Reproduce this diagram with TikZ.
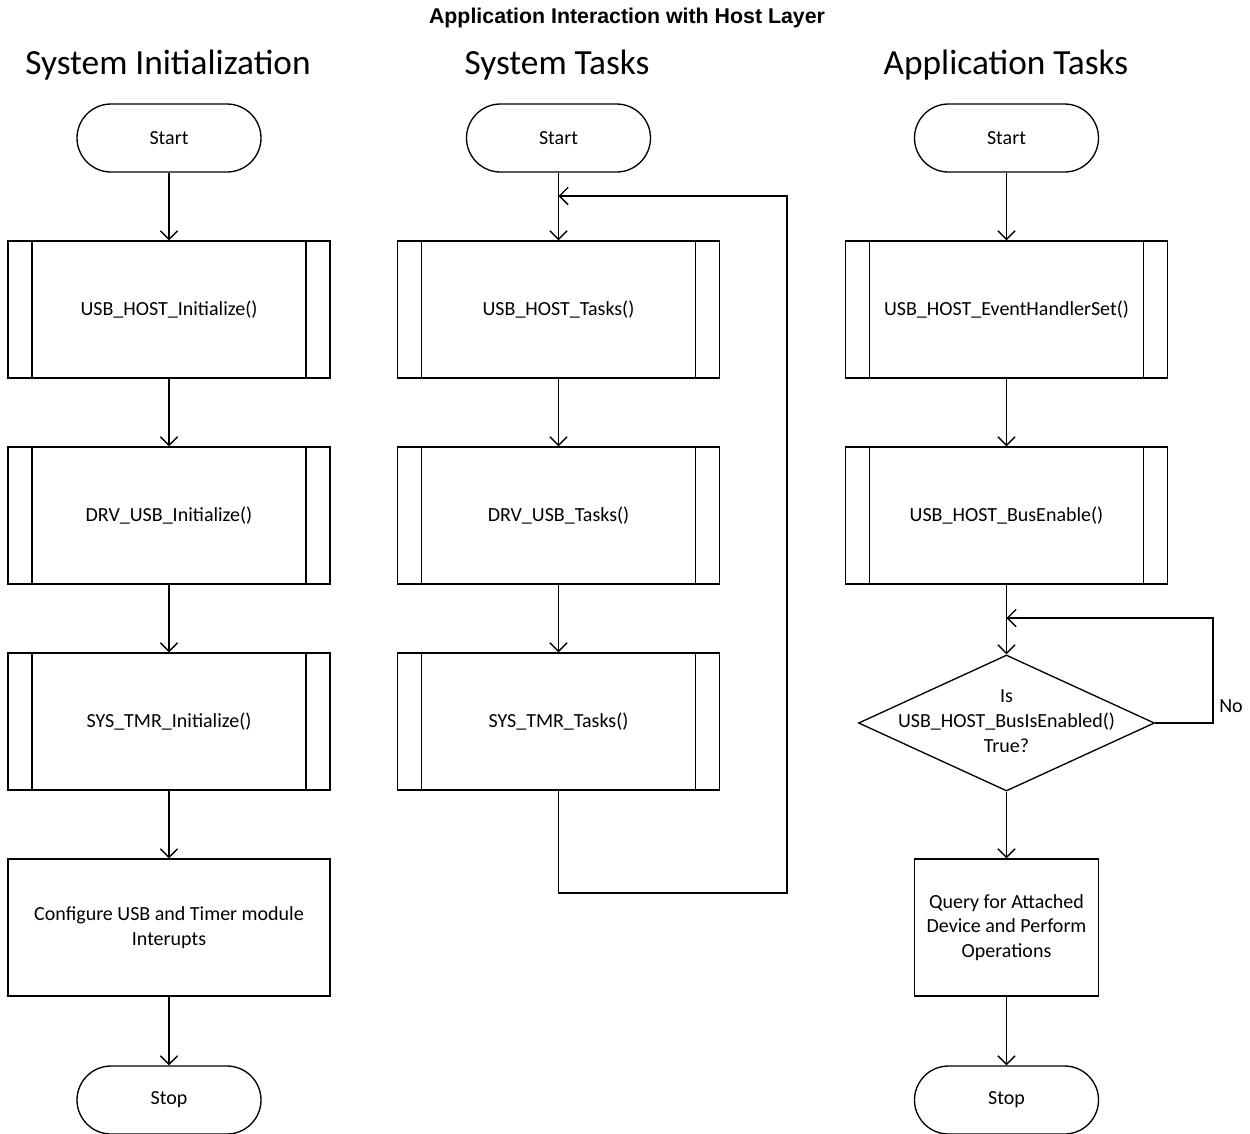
\documentclass[tikz,border=0pt]{standalone}
\usepackage{fontspec}
\setmainfont{Carlito}
\newfontfamily\titlefont{Liberation Sans}
\usetikzlibrary{arrows.meta,shapes.geometric}
\begin{document}
\begin{tikzpicture}[x=0.75pt,y=-0.75pt,
  line width=1pt,
  every node/.style={font=\fontsize{15}{18.5}\selectfont},
  term/.style={draw,rectangle,rounded corners=25.5pt,minimum width=138pt,minimum height=51pt,inner sep=0pt},
  predef/.style={draw,rectangle,minimum width=241.5pt,minimum height=102.75pt,inner sep=0pt,
    path picture={
      \draw ([xshift=18pt]path picture bounding box.north west) -- ([xshift=18pt]path picture bounding box.south west);
      \draw ([xshift=-18pt]path picture bounding box.north east) -- ([xshift=-18pt]path picture bounding box.south east);}},
  procbox/.style={draw,rectangle,minimum height=102.75pt,inner sep=0pt,align=center},
  decide/.style={draw,diamond,minimum width=222pt,minimum height=102pt,inner sep=0pt},
  hdr/.style={font=\fontsize{26.5}{30}\selectfont},
  flow/.style={-{Straight Barb[length=6.5pt,width=13pt]}}
]
\useasboundingbox (0,0) rectangle (1250,1133);

\node[font=\titlefont\bfseries\fontsize{16}{19}\selectfont] (title) at (627,18) {Application Interaction with Host Layer};

\node[hdr] (h1) at (168,65) {System Initialization};
\node[hdr] (h2) at (557,65) {System Tasks};
\node[hdr] (h3) at (1006,65) {Application Tasks};

% column 1
\node[term] (s1) at (169,138) {Start};
\node[predef] (a1) at (169,309.5) {USB\_HOST\_Initialize()};
\node[predef] (a2) at (169,515.5) {DRV\_USB\_Initialize()};
\node[predef] (a3) at (169,721.5) {SYS\_TMR\_Initialize()};
\node[procbox,minimum width=241.5pt] (a4) at (169,927.5) {Configure USB and Timer module\\Interupts};
\node[term] (e1) at (169,1100) {Stop};
\draw[flow] (s1) -- (a1);
\draw[flow] (a1) -- (a2);
\draw[flow] (a2) -- (a3);
\draw[flow] (a3) -- (a4);
\draw[flow] (a4) -- (e1);

% column 2
\node[term] (s2) at (558.5,138) {Start};
\node[predef] (b1) at (558.5,309.5) {USB\_HOST\_Tasks()};
\node[predef] (b2) at (558.5,515.5) {DRV\_USB\_Tasks()};
\node[predef] (b3) at (558.5,721.5) {SYS\_TMR\_Tasks()};
\coordinate (l1) at (558.5,893);
\coordinate (l2) at (787,893);
\coordinate (l3) at (787,196);
\coordinate (l4) at (558.5,196);
\draw[flow] (s2) -- (b1);
\draw[flow] (b1) -- (b2);
\draw[flow] (b2) -- (b3);
\draw[flow] (b3.south) -- (l1) -- (l2) -- (l3) -- (l4);

% column 3
\node[term] (s3) at (1006.5,138) {Start};
\node[predef] (c1) at (1006.5,309.5) {USB\_HOST\_EventHandlerSet()};
\node[predef] (c2) at (1006.5,515.5) {USB\_HOST\_BusEnable()};
\node[decide] (d) at (1006.5,723) {};
\node[align=center] (dt) at (1006.5,721) {Is\\USB\_HOST\_BusIsEnabled()\\True?};
\node[procbox,minimum width=138pt] (c3) at (1006.5,927.5) {Query for Attached\\Device and Perform\\Operations};
\node[term] (e3) at (1006.5,1100) {Stop};
\coordinate (m1) at (1213,723);
\coordinate (m2) at (1213,618);
\coordinate (m3) at (1006.5,618);
\node (no) at (1231,706) {No};
\draw[flow] (s3) -- (c1);
\draw[flow] (c1) -- (c2);
\draw[flow] (c2) -- (d);
\draw[flow] (d.east) -- (m1) -- (m2) -- (m3);
\draw[flow] (d) -- (c3);
\draw[flow] (c3) -- (e3);
\end{tikzpicture}
\end{document}
